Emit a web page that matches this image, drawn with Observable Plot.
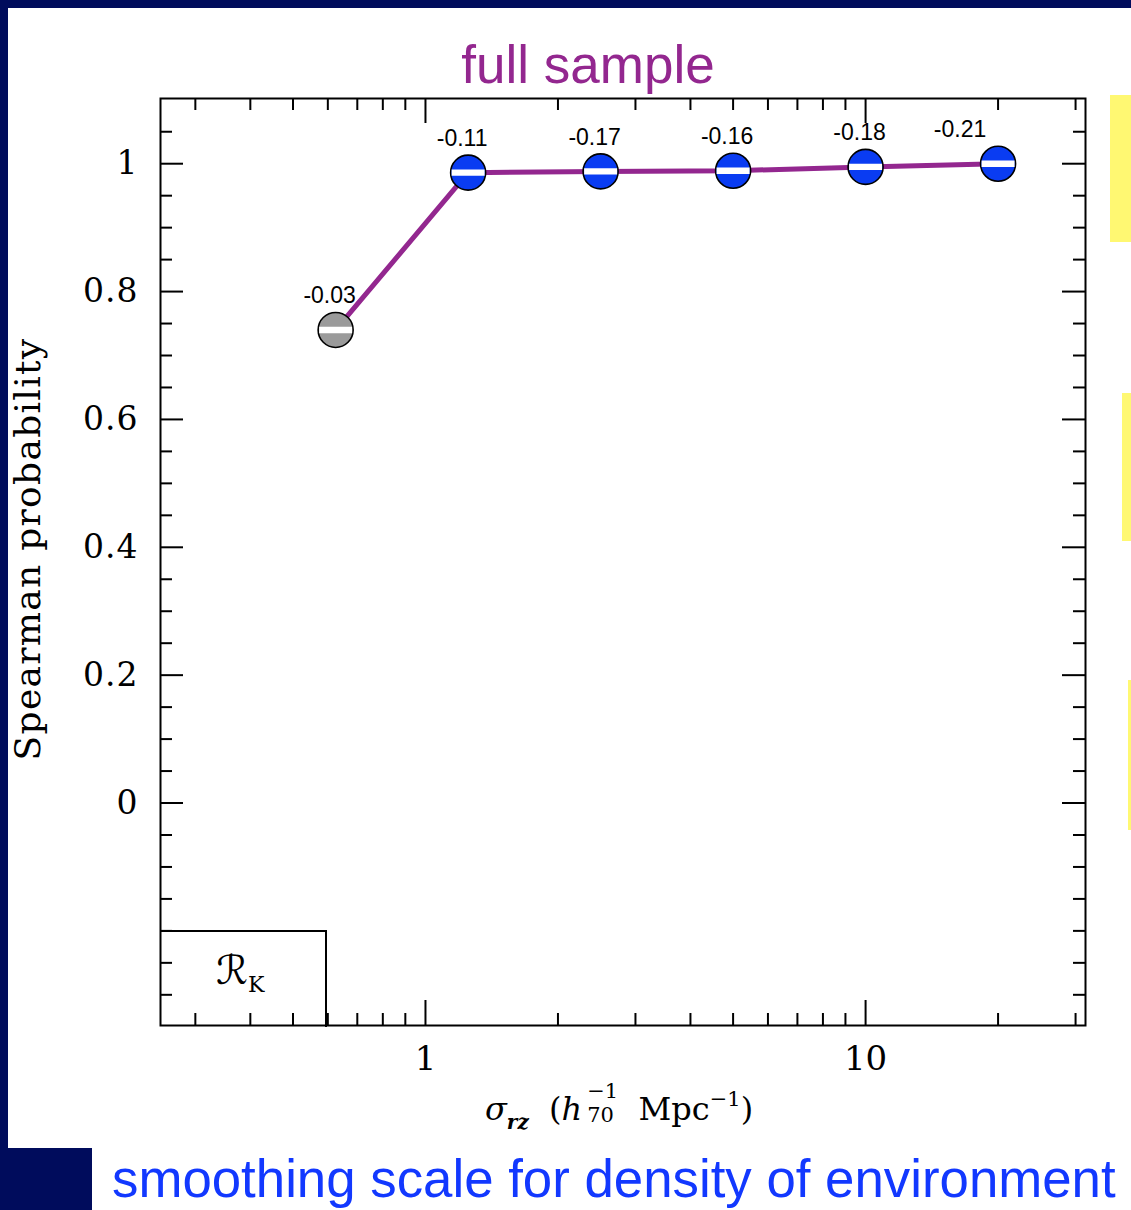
<!DOCTYPE html>
<html>
<head>
<meta charset="utf-8">
<script src="https://cdn.jsdelivr.net/npm/d3@7"></script>
<script src="https://cdn.jsdelivr.net/npm/@observablehq/plot@0.6"></script>
<style>
html, body { margin: 0; padding: 0; background: #fff; }
#page { position: relative; width: 1131px; height: 1210px; overflow: hidden; background: #fff; font-family: "Liberation Sans", Arial, sans-serif; }
#chart { position: absolute; left: 0; top: 0; }
.navy { position: absolute; background: #000c5c; }
.yellow { position: absolute; background: #fff872; }
#title { position: absolute; left: 0; width: 1176px; top: 33px; text-align: center; font-size: 53px; line-height: 64px; color: #93278f; }
#subtitle { position: absolute; left: 112px; top: 1153px; font-size: 52.8px; line-height: 52px; color: #1238ff; white-space: nowrap; }
#xlabel { position: absolute; left: 485px; top: 1093px; font-family: "DejaVu Serif", serif; font-size: 32px; line-height: 32px; white-space: nowrap; color: #000; }
#xlabel .sub { position: relative; top: 9px; font-size: 20px; font-weight: bold; font-style: italic; line-height: 0; }
#xlabel .sup { position: relative; top: -14px; font-size: 21px; line-height: 0; }
#xlabel .stk { display: inline-block; position: relative; width: 36px; height: 1px; }
#xlabel .stk span { position: absolute; left: 5px; font-size: 21px; line-height: 21px; }
#rkbox { position: absolute; left: 160px; top: 930px; width: 165px; height: 95px; border-top: 2px solid #000; border-right: 2px solid #000; }
#rk { position: absolute; left: 56px; top: 16px; font-family: "DejaVu Serif", "DejaVu Sans", serif; font-size: 40px; line-height: 44px; white-space: nowrap; font-style: italic; }
#rk .k { position: relative; top: 8px; font-size: 22px; font-style: normal; }
</style>
</head>
<body>
<div id="page">
  <div id="chart"></div>
  <div id="title">full sample</div>
  <div id="rkbox"><div id="rk">ℛ<span class="k">K</span></div></div>
  <div id="xlabel"><i>σ</i><span class="sub">rz</span>&nbsp;&nbsp;(<i>h</i><span class="stk"><span style="top:-38px">−1</span><span style="top:-14px">70</span></span>&nbsp;&nbsp;Mpc<span class="sup">−1</span>)</div>
  <div class="navy" style="left:0;top:0;width:1131px;height:8px"></div>
  <div class="navy" style="left:0;top:0;width:8px;height:1148px"></div>
  <div class="navy" style="left:0;top:1148px;width:92px;height:62px"></div>
  <div class="yellow" style="left:1110px;top:95px;width:21px;height:147px"></div>
  <div class="yellow" style="left:1122px;top:393px;width:9px;height:148px"></div>
  <div class="yellow" style="left:1128px;top:680px;width:3px;height:150px"></div>
  <div id="subtitle">smoothing scale for density of environment</div>
</div>
<script>
// ---- data ----
const smoothingScale = [0.625, 1.25, 2.5, 5, 10, 20];
const spearmanProbability = [0.74, 0.986, 0.988, 0.989, 0.995, 1.0];
const correlation = ["-0.03", "-0.11", "-0.17", "-0.16", "-0.18", "-0.21"];
const significant = [false, true, true, true, true, true];

const xMajorTicks = [1, 10];
const xMinorTicks = [0.3, 0.4, 0.5, 0.6, 0.7, 0.8, 0.9, 2, 3, 4, 5, 6, 7, 8, 9, 20, 30];
const yMajorTicks = [0, 0.2, 0.4, 0.6, 0.8, 1];
const yMinorTicks = [-0.3, -0.25, -0.2, -0.15, -0.1, -0.05, 0.05, 0.1, 0.15, 0.25, 0.3, 0.35, 0.45, 0.5, 0.55, 0.65, 0.7, 0.75, 0.85, 0.9, 0.95, 1.05];
const yTickLabels = ["0", "0.2", "0.4", "0.6", "0.8", "1"];
const yAxisLabel = "Spearman probability";

const data = smoothingScale.map((s, i) => ({
  scale: s, p: spearmanProbability[i], rho: correlation[i], sig: significant[i], last: i === smoothingScale.length - 1
}));

const W = 1131, H = 1148;
const mL = 160, mR = 46, mT = 98, mB = 123;
const fw = W - mL - mR, fh = H - mT - mB;

const barSymbol = {
  draw(context, size) {
    const r = Math.sqrt(size / Math.PI);
    context.rect(-r, -3.2, 2 * r, 6.4);
  }
};

const chart = Plot.plot({
  width: W, height: H,
  marginLeft: mL, marginRight: mR, marginTop: mT, marginBottom: mB,
  x: {type: "log", domain: [0.25, 31.6]},
  y: {domain: [-0.348, 1.102]},
  style: {background: "transparent", color: "#000"},
  marks: [
    // inward ticks on four sides
    Plot.tickX(xMinorTicks, {x: d => d, insetTop: fh - 12, stroke: "#000", strokeWidth: 2}),
    Plot.tickX(xMinorTicks, {x: d => d, insetBottom: fh - 12, stroke: "#000", strokeWidth: 2}),
    Plot.tickX(xMajorTicks, {x: d => d, insetTop: fh - 25, stroke: "#000", strokeWidth: 2}),
    Plot.tickX(xMajorTicks, {x: d => d, insetBottom: fh - 25, stroke: "#000", strokeWidth: 2}),
    Plot.tickY(yMinorTicks, {y: d => d, insetRight: fw - 12, stroke: "#000", strokeWidth: 2}),
    Plot.tickY(yMinorTicks, {y: d => d, insetLeft: fw - 12, stroke: "#000", strokeWidth: 2}),
    Plot.tickY(yMajorTicks, {y: d => d, insetRight: fw - 23, stroke: "#000", strokeWidth: 2}),
    Plot.tickY(yMajorTicks, {y: d => d, insetLeft: fw - 23, stroke: "#000", strokeWidth: 2}),
    Plot.frame({stroke: "#000", strokeWidth: 2}),
    Plot.axisX(xMajorTicks, {tickSize: 0, tickPadding: 20, fontSize: 34, fontFamily: "DejaVu Serif", tickFormat: d => String(d), label: null}),
    Plot.axisY(yMajorTicks, {tickSize: 0, tickPadding: 22, fontSize: 33, fontFamily: "DejaVu Serif", tickFormat: (d, i) => yTickLabels[i], label: null}),
    Plot.text([yAxisLabel], {frameAnchor: "left", textAnchor: "middle", dx: -132, dy: -13, rotate: -90, fontSize: 36, fontFamily: "DejaVu Serif", text: d => d}),
    // series
    Plot.line(data, {x: "scale", y: "p", stroke: "#93278f", strokeWidth: 5}),
    Plot.dot(data, {x: "scale", y: "p", r: 17.5, fill: d => d.sig ? "#0a3cf2" : "#9a9a9a", stroke: "#000", strokeWidth: 1.6}),
    Plot.dot(data, {x: "scale", y: "p", r: 16.5, symbol: barSymbol, fill: "#fff", stroke: "none"}),
    Plot.text(data, {filter: d => !d.last, x: "scale", y: "p", text: "rho", dx: -6, dy: -34, fontSize: 23, fontFamily: "Liberation Sans", fill: "#000"}),
    Plot.text(data, {filter: d => d.last, x: "scale", y: "p", text: "rho", dx: -38, dy: -34, fontSize: 23, fontFamily: "Liberation Sans", fill: "#000"})
  ]
});
chart.querySelectorAll("text").forEach(t => {
  if (t.textContent === yAxisLabel) t.setAttribute("letter-spacing", "1.3");
});
chart.querySelectorAll("g[aria-label='y-axis tick label'] text").forEach(t => t.setAttribute("letter-spacing", "1"));
document.getElementById("chart").appendChild(chart);
</script>
</body>
</html>
